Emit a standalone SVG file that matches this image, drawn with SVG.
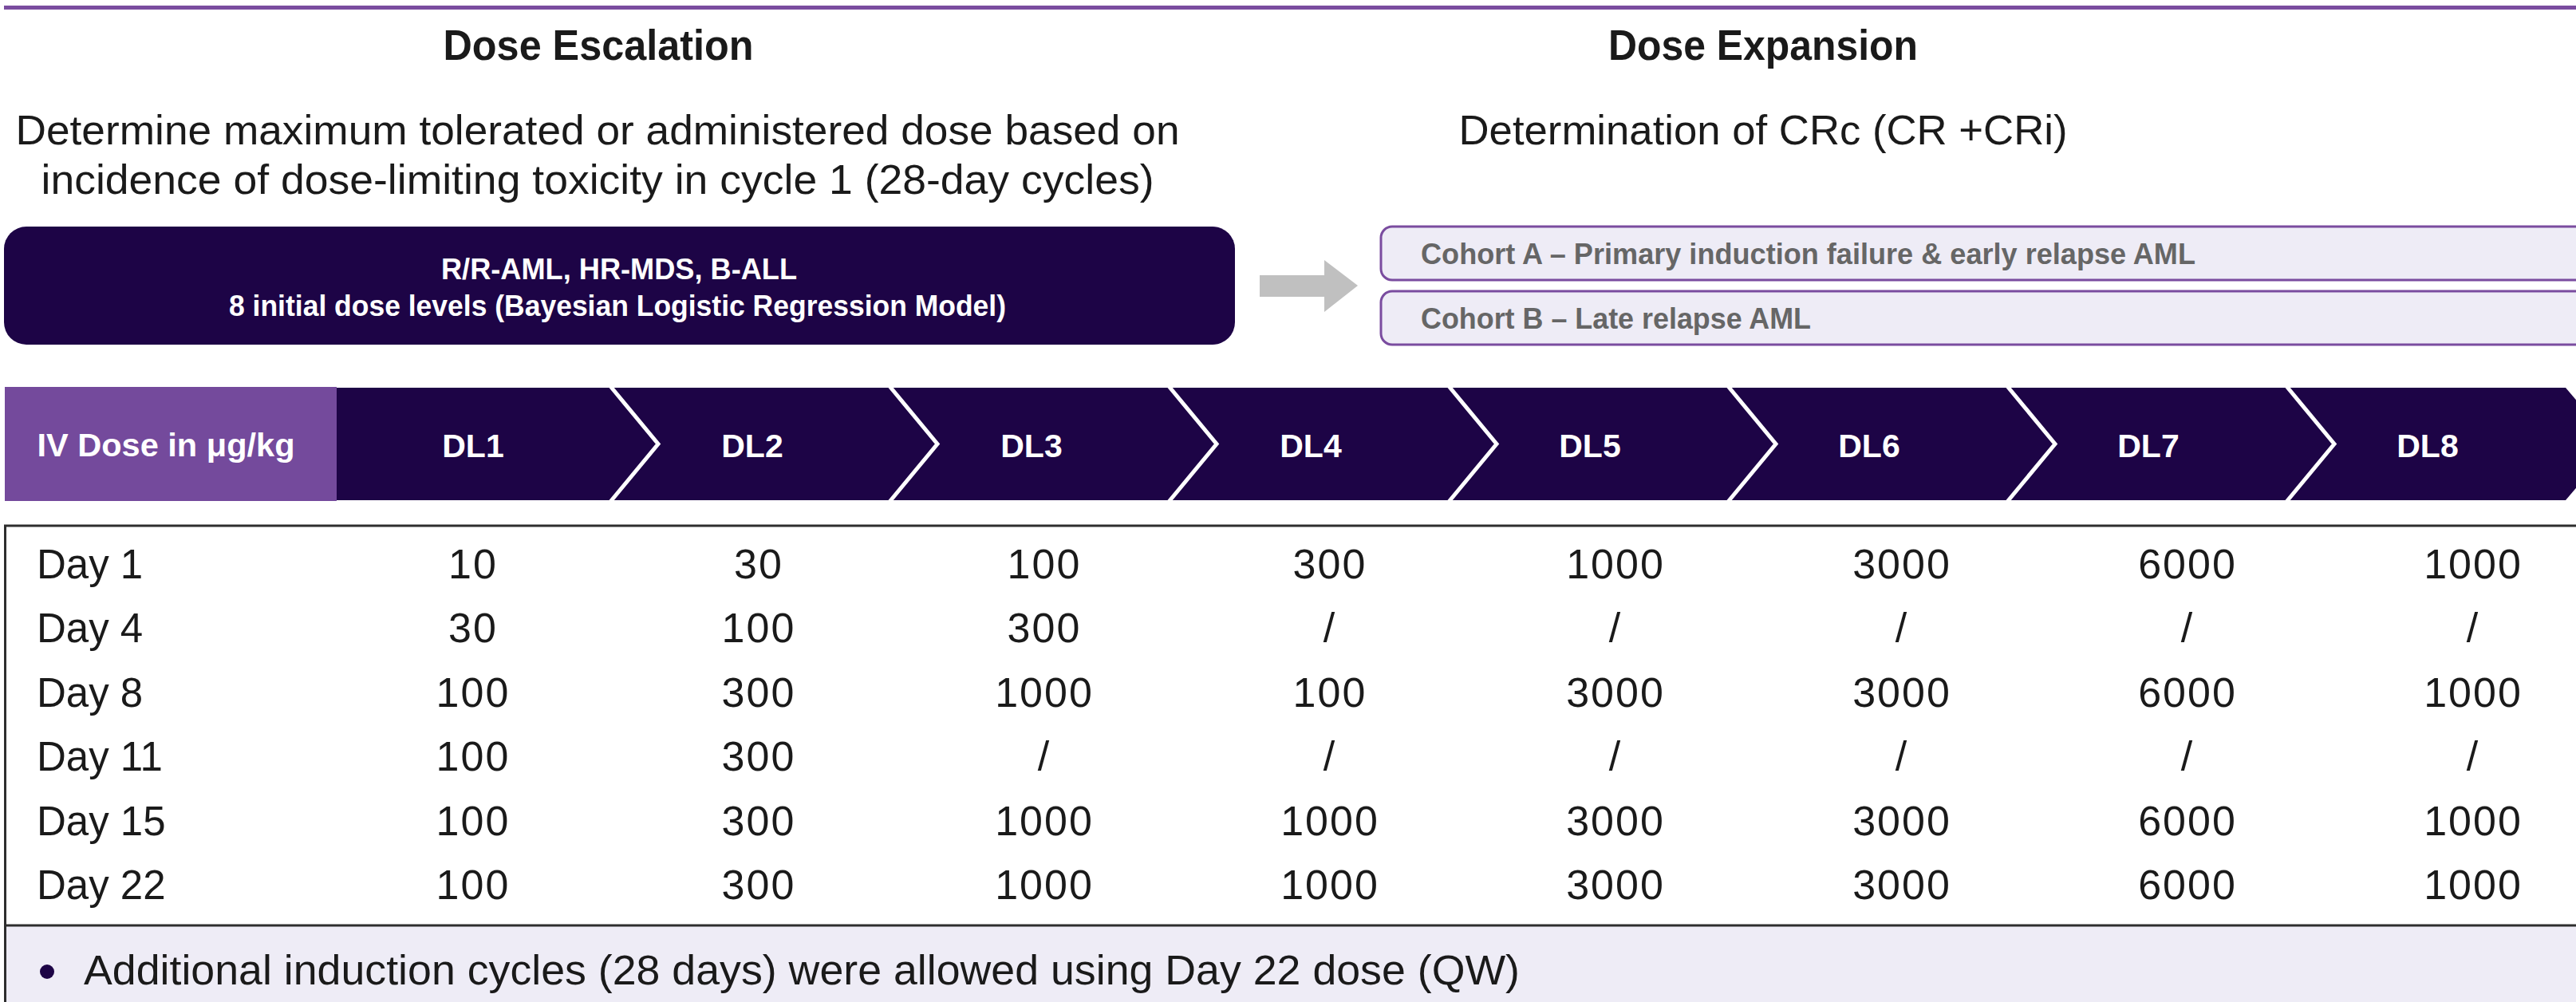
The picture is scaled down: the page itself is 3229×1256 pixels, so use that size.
<svg xmlns="http://www.w3.org/2000/svg" width="3229" height="1256" viewBox="0 0 3229 1256">
  <defs>
    <style>
      .ttl { font-family: "Liberation Sans", Arial, sans-serif; font-weight: 700; font-size: 54px; fill: #1a1a1a; text-anchor: middle; }
      .sub { font-family: "Liberation Sans", Arial, sans-serif; font-size: 52px; fill: #1a1a1a; text-anchor: middle; }
      .boxtxt { font-family: "Liberation Sans", Arial, sans-serif; font-weight: 700; font-size: 37px; fill: #ffffff; text-anchor: middle; }
      .cohort { font-family: "Liberation Sans", Arial, sans-serif; font-weight: 700; font-size: 37px; fill: #666666; }
      .cohortbox { fill: #eeecf6; stroke: #7a4c9f; stroke-width: 3; }
      .dl { font-family: "Liberation Sans", Arial, sans-serif; font-weight: 700; font-size: 41px; fill: #ffffff; text-anchor: middle; }
      .chev { fill: none; stroke: #ffffff; stroke-width: 5; }
      .day { font-family: "Liberation Sans", Arial, sans-serif; font-size: 51px; fill: #1a1a1a; }
      .num { font-family: "Liberation Sans", Arial, sans-serif; font-size: 52px; fill: #1a1a1a; text-anchor: middle; letter-spacing: 2px; }
      .rule { stroke: #2e2e2e; stroke-width: 3; }
    </style>
  </defs>

  <rect width="3229" height="1256" fill="#ffffff"/>

  <!-- top accent rule -->
  <line x1="5" y1="9.5" x2="3229" y2="9.5" stroke="#7a4c9f" stroke-width="5"/>

  <!-- section headings -->
  <g id="heading-escalation">
    <text class="ttl" x="750" y="75" textLength="389" lengthAdjust="spacingAndGlyphs">Dose Escalation</text>
    <text class="sub" x="749" y="181" textLength="1459" lengthAdjust="spacingAndGlyphs">Determine maximum tolerated or administered dose based on</text>
    <text class="sub" x="749" y="243" textLength="1395" lengthAdjust="spacingAndGlyphs">incidence of dose-limiting toxicity in cycle 1 (28-day cycles)</text>
  </g>
  <g id="heading-expansion">
    <text class="ttl" x="2210" y="75" textLength="388" lengthAdjust="spacingAndGlyphs">Dose Expansion</text>
    <text class="sub" x="2210" y="181" textLength="763" lengthAdjust="spacingAndGlyphs">Determination of CRc (CR +CRi)</text>
  </g>

  <!-- escalation population box -->
  <g id="escalation-box">
    <rect x="5" y="284" width="1543" height="148" rx="28" ry="28" fill="#1d0446"/>
    <text class="boxtxt" x="776" y="350" textLength="446" lengthAdjust="spacingAndGlyphs">R/R-AML, HR-MDS, B-ALL</text>
    <text class="boxtxt" x="774" y="396" textLength="974" lengthAdjust="spacingAndGlyphs">8 initial dose levels (Bayesian Logistic Regression Model)</text>
  </g>

  <!-- connectors -->
  <g id="connectors">
    <polygon points="1579,345 1660,345 1660,326 1702,358 1660,391 1660,372 1579,372" fill="#c0c0c0"/>
  </g>

  <!-- expansion cohorts -->
  <g id="cohort-a">
    <rect class="cohortbox" x="1731" y="284" width="1560" height="67" rx="14" ry="14"/>
    <text class="cohort" x="1781" y="331" textLength="971" lengthAdjust="spacingAndGlyphs">Cohort A – Primary induction failure &amp; early relapse AML</text>
  </g>
  <g id="cohort-b">
    <rect class="cohortbox" x="1731" y="365" width="1560" height="67" rx="14" ry="14"/>
    <text class="cohort" x="1781" y="412" textLength="489" lengthAdjust="spacingAndGlyphs">Cohort B – Late relapse AML</text>
  </g>

  <!-- dose level banner -->
  <g id="dose-banner">
    <rect x="6" y="485" width="416" height="143" fill="#744a9c"/>
    <text class="dl" x="208" y="572" textLength="323" lengthAdjust="spacingAndGlyphs" font-size="39">IV Dose in μg/kg</text>
    <path d="M422,486 H3216 L3276,556.5 L3216,627 H422 Z" fill="#1d0446"/>
    <polyline class="chev" points="765,484 825,556.5 765,629"/>
    <polyline class="chev" points="1115,484 1175,556.5 1115,629"/>
    <polyline class="chev" points="1465,484 1525,556.5 1465,629"/>
    <polyline class="chev" points="1816,484 1876,556.5 1816,629"/>
    <polyline class="chev" points="2166,484 2226,556.5 2166,629"/>
    <polyline class="chev" points="2516,484 2576,556.5 2516,629"/>
    <polyline class="chev" points="2866,484 2926,556.5 2866,629"/>
    <text class="dl" x="593" y="573">DL1</text>
    <text class="dl" x="943" y="573">DL2</text>
    <text class="dl" x="1293" y="573">DL3</text>
    <text class="dl" x="1643" y="573">DL4</text>
    <text class="dl" x="1993" y="573">DL5</text>
    <text class="dl" x="2343" y="573">DL6</text>
    <text class="dl" x="2693" y="573">DL7</text>
    <text class="dl" x="3043" y="573">DL8</text>
  </g>

  <!-- dosing schedule table -->
  <g id="schedule-table">
    <rect x="6" y="1160" width="3223" height="96" fill="#eeecf6"/>
    <line class="rule" x1="5" y1="659" x2="3229" y2="659"/>
    <line class="rule" x1="5" y1="1160" x2="3229" y2="1160"/>
    <line class="rule" x1="6.5" y1="658" x2="6.5" y2="1256"/>

    <g id="row-day1">
      <text class="day" x="46" y="725">Day 1</text>
      <text class="num" x="593" y="725">10</text>
      <text class="num" x="951" y="725">30</text>
      <text class="num" x="1309" y="725">100</text>
      <text class="num" x="1667" y="725">300</text>
      <text class="num" x="2025" y="725">1000</text>
      <text class="num" x="2384" y="725">3000</text>
      <text class="num" x="2742" y="725">6000</text>
      <text class="num" x="3100" y="725">1000</text>
    </g>
    <g id="row-day4">
      <text class="day" x="46" y="805">Day 4</text>
      <text class="num" x="593" y="805">30</text>
      <text class="num" x="951" y="805">100</text>
      <text class="num" x="1309" y="805">300</text>
      <text class="num" x="1667" y="805">/</text>
      <text class="num" x="2025" y="805">/</text>
      <text class="num" x="2384" y="805">/</text>
      <text class="num" x="2742" y="805">/</text>
      <text class="num" x="3100" y="805">/</text>
    </g>
    <g id="row-day8">
      <text class="day" x="46" y="886">Day 8</text>
      <text class="num" x="593" y="886">100</text>
      <text class="num" x="951" y="886">300</text>
      <text class="num" x="1309" y="886">1000</text>
      <text class="num" x="1667" y="886">100</text>
      <text class="num" x="2025" y="886">3000</text>
      <text class="num" x="2384" y="886">3000</text>
      <text class="num" x="2742" y="886">6000</text>
      <text class="num" x="3100" y="886">1000</text>
    </g>
    <g id="row-day11">
      <text class="day" x="46" y="966">Day 11</text>
      <text class="num" x="593" y="966">100</text>
      <text class="num" x="951" y="966">300</text>
      <text class="num" x="1309" y="966">/</text>
      <text class="num" x="1667" y="966">/</text>
      <text class="num" x="2025" y="966">/</text>
      <text class="num" x="2384" y="966">/</text>
      <text class="num" x="2742" y="966">/</text>
      <text class="num" x="3100" y="966">/</text>
    </g>
    <g id="row-day15">
      <text class="day" x="46" y="1047">Day 15</text>
      <text class="num" x="593" y="1047">100</text>
      <text class="num" x="951" y="1047">300</text>
      <text class="num" x="1309" y="1047">1000</text>
      <text class="num" x="1667" y="1047">1000</text>
      <text class="num" x="2025" y="1047">3000</text>
      <text class="num" x="2384" y="1047">3000</text>
      <text class="num" x="2742" y="1047">6000</text>
      <text class="num" x="3100" y="1047">1000</text>
    </g>
    <g id="row-day22">
      <text class="day" x="46" y="1127">Day 22</text>
      <text class="num" x="593" y="1127">100</text>
      <text class="num" x="951" y="1127">300</text>
      <text class="num" x="1309" y="1127">1000</text>
      <text class="num" x="1667" y="1127">1000</text>
      <text class="num" x="2025" y="1127">3000</text>
      <text class="num" x="2384" y="1127">3000</text>
      <text class="num" x="2742" y="1127">6000</text>
      <text class="num" x="3100" y="1127">1000</text>
    </g>

    <g id="footnote">
      <circle cx="59" cy="1218" r="9" fill="#1d0446"/>
      <text class="day" x="105" y="1234" textLength="1800" lengthAdjust="spacingAndGlyphs">Additional induction cycles (28 days) were allowed using Day 22 dose (QW)</text>
    </g>
  </g>
</svg>
